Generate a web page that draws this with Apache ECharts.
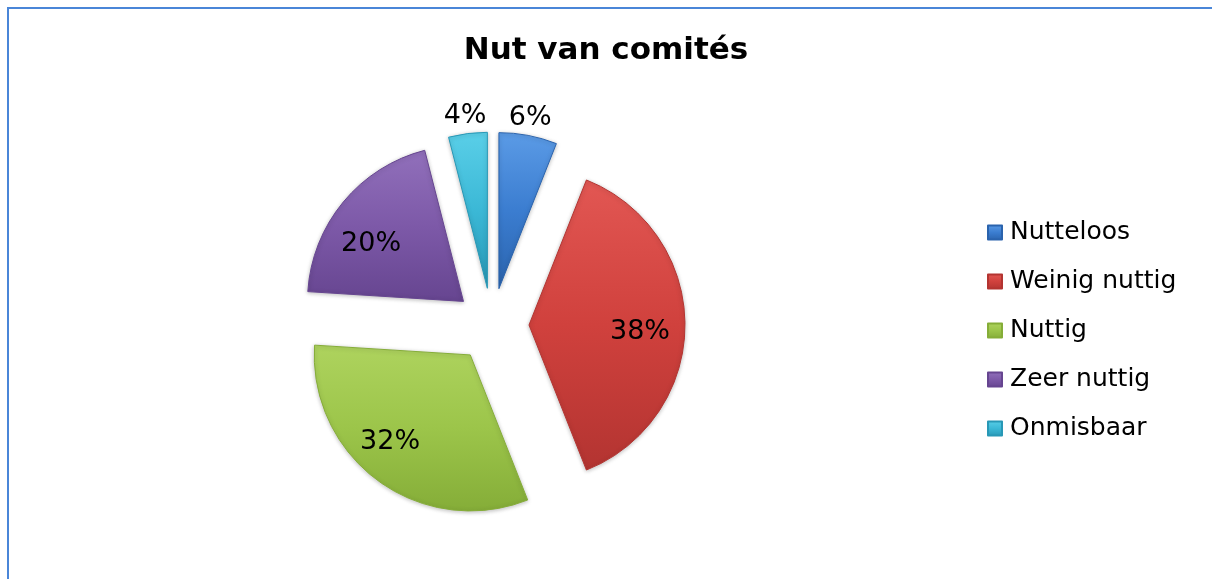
<!DOCTYPE html>
<html>
<head>
<meta charset="utf-8">
<script src="https://cdn.jsdelivr.net/npm/echarts@6/dist/echarts.min.js"></script>
<style>
html,body{margin:0;padding:0;background:#fff;}
#chart{width:1212px;height:579px;}
</style>
</head>
<body>
<div id="chart"></div>
<script>
const categories = ['Nutteloos', 'Weinig nuttig', 'Nuttig', 'Zeer nuttig', 'Onmisbaar'];
const values = [6, 38, 32, 20, 4];
const insideLabels = [false, true, true, true, false];

const palette = [
  ['#5b9be6', '#3b7dd0', '#2a63ad'],
  ['#e25753', '#d0413d', '#b33431'],
  ['#aed35e', '#9cc54a', '#85ad38'],
  ['#9170bb', '#7d59a8', '#664590'],
  ['#5acfe8', '#3bb8d6', '#2898b6']
];
// small label nudges (styling only): horizontal via padding, vertical via spacer line
const labelPad = [[0, 4, 0, 0], [0, 10, 0, 0], [0, 24, 0, 0], [0, 6, 0, 0], [0, 0, 0, 0]];
const labelVNudge = [4, 7, -7, 17, 4];

function grad(c) {
  return {type: 'linear', x: 0, y: 0, x2: 0, y2: 1,
    colorStops: [{offset: 0, color: c[0]}, {offset: 0.5, color: c[1]}, {offset: 1, color: c[2]}]};
}

const rich = {t: {fontFamily: 'DejaVu Sans', fontSize: 27, lineHeight: 32, color: '#000'}};
labelVNudge.forEach(v => {
  const h = Math.abs(v) * 2;
  rich['g' + h] = {fontSize: 1, lineHeight: h, height: h};
});

const labelFmt = p => {
  const pct = Math.round(p.percent) + '%';
  const v = labelVNudge[p.dataIndex];
  const g = '{g' + Math.abs(v) * 2 + '| }';
  if (v > 0) return g + '\n{t|' + pct + '}';
  if (v < 0) return '{t|' + pct + '}\n' + g;
  return '{t|' + pct + '}';
};

const chart = echarts.init(document.getElementById('chart'));
const center = [492, 325];
const offset = 37;

const mainData = categories.map((n, i) => ({
  name: n, value: values[i], selected: true,
  itemStyle: {color: grad(palette[i]), borderColor: palette[i][2], borderWidth: 1}
}));
const innerLabelData = categories.map((n, i) => ({
  name: n, value: values[i], selected: true,
  label: {show: insideLabels[i], padding: labelPad[i]}
}));
const outerLabelData = categories.map((n, i) => ({
  name: n, value: values[i], selected: true,
  label: {show: !insideLabels[i], padding: labelPad[i]}
}));

chart.setOption({
  animation: false,
  color: palette.map(c => c[1]),
  title: {
    text: 'Nut van comités', left: 'center', top: 30,
    textStyle: {fontFamily: 'DejaVu Sans', fontSize: 31, fontWeight: 'bold', color: '#000'}
  },
  legend: {
    orient: 'vertical', left: 982, top: 215, itemWidth: 14, itemHeight: 14, itemGap: 24,
    icon: 'rect',
    data: categories,
    textStyle: {fontFamily: 'DejaVu Sans', fontSize: 25, lineHeight: 24, color: '#000', padding: [0, 0, 0, 3]},
    selectedMode: false
  },
  graphic: [{
    type: 'rect', shape: {x: 8, y: 8, width: 1400, height: 800},
    style: {fill: 'none', stroke: '#4a86d8', lineWidth: 2}, silent: true, z: -1
  }],
  series: [
    {
      type: 'pie', center: center, radius: [0, 156], startAngle: 90, clockwise: true,
      selectedMode: 'multiple', selectedOffset: offset,
      label: {show: false}, labelLine: {show: false},
      emphasis: {disabled: true}, silent: true,
      itemStyle: {shadowBlur: 4, shadowColor: 'rgba(0,0,0,0.25)', shadowOffsetY: 1},
      data: mainData
    },
    {
      type: 'pie', center: center, radius: [70, 156], startAngle: 90, clockwise: true,
      selectedMode: 'multiple', selectedOffset: offset,
      itemStyle: {color: 'rgba(0,0,0,0)'}, silent: true, emphasis: {disabled: true},
      label: {position: 'inside', formatter: labelFmt, rich: rich, color: '#000', fontFamily: 'DejaVu Sans', fontSize: 27},
      labelLine: {show: false},
      data: innerLabelData
    },
    {
      type: 'pie', center: center, radius: [160, 190], startAngle: 90, clockwise: true,
      selectedMode: 'multiple', selectedOffset: offset,
      itemStyle: {color: 'rgba(0,0,0,0)'}, silent: true, emphasis: {disabled: true},
      label: {position: 'inside', formatter: labelFmt, rich: rich, color: '#000', fontFamily: 'DejaVu Sans', fontSize: 27},
      labelLine: {show: false},
      data: outerLabelData
    }
  ]
});
</script>
</body>
</html>
